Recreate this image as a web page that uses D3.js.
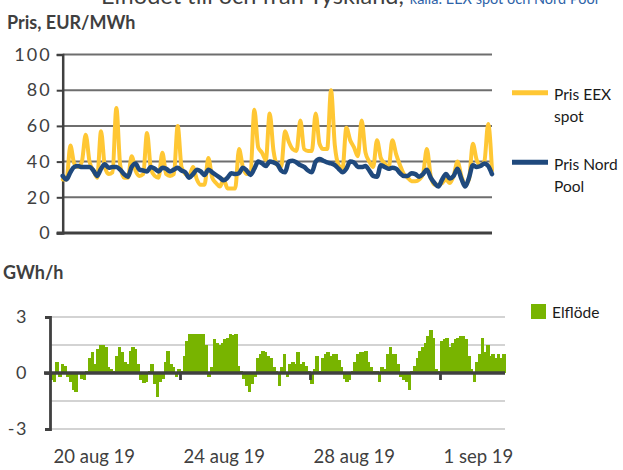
<!DOCTYPE html>
<html>
<head>
<meta charset="utf-8">
<script src="https://cdn.jsdelivr.net/npm/d3@7"></script>
<style>
  body { margin: 0; background: #fff; }
  svg { display: block; font-family: Lato, "Open Sans", sans-serif; }
</style>
</head>
<body>
<svg id="chart" width="623" height="470"></svg>
<script>
// Period shown: 20 Aug 2019 00:00 to 3 Sep 2019 00:00 (UTC)
const startDate = Date.UTC(2019, 7, 20);
const endDate = Date.UTC(2019, 8, 3);
const HOUR = 3600 * 1000;

// Spot prices, EUR/MWh, one value every 3 hours
const priceStepHours = 3;
const priceEEX = [
  30, 30, 49, 39, 37, 40, 55, 40, 35, 31,
  57, 37, 33, 34, 70, 38, 31, 31, 43, 35,
  32, 33, 56, 36, 32, 31, 45, 33, 32, 33,
  60, 37, 33, 32, 37, 30, 27, 27, 42, 31,
  28, 26, 30, 25, 25, 25, 47, 37, 33, 34,
  69, 48, 45, 41, 67, 46, 38, 37, 57, 51,
  47, 46, 63, 47, 46, 46, 67, 50, 47, 47,
  80, 49, 38, 36, 59, 52, 48, 43, 63, 45,
  40, 37, 52, 42, 39, 36, 52, 44, 38, 33,
  31, 29, 29, 30, 33, 47, 32, 27, 27, 28,
  30, 28, 32, 40, 32, 27, 30, 50, 41, 38,
  40, 61, 35
];
const priceNordPool = [
  32, 30, 34, 37, 37.5, 37, 37, 37, 35, 32,
  36, 38.5, 36.5, 37, 37, 35.5, 33, 31.5, 37, 39,
  35.5, 35, 34.5, 37, 36, 34.5, 36.5, 36, 34.5, 35.5,
  36.5, 35, 34, 31, 33, 35.5, 34.5, 32.5, 35.5, 34,
  32.5, 31, 29.5, 31, 33.5, 33, 33.5, 36.5, 35, 32.5,
  36, 40, 39, 37.5, 40, 39.5, 38.5, 35, 34, 40,
  40.5, 39.5, 38, 37, 35, 34, 40, 41.5, 40.5, 39.5,
  39, 38, 36, 34, 36, 40, 39.5, 37, 37, 37.5,
  35, 32, 31.5, 38, 37, 36, 36.5, 36, 33.5, 32,
  32, 33.5, 33, 31.5, 33, 35.5, 31, 28, 26, 30,
  33, 30.5, 32, 36, 30.5, 26, 31, 38, 37, 37.5,
  39, 37.5, 33
];

// Net power flow, GWh/h, one value every 2 hours
const flowStepHours = 2;
const elflode = [
  -0.4, -0.5, 0.6, -0.2, 0.5, 0.4, -0.2, -0.5, -0.9, -1.0,
  0.05, -0.3, -0.4, 0.1, 0.8, 1.1, 0.5, 1.3, 1.5, 1.5,
  1.4, 0.3, 0.2, 0.1, 0.9, 1.4, 1.1, 0.6, 0.5, 1.2,
  1.4, 1.3, 0.5, -0.4, -0.55, -0.5, 0.1, 0.5, -0.6, -1.3,
  -0.5, -0.3, 0.6, 1.2, 0.5, 0.3, -0.2, 0.2, 0.1, 0.9,
  1.7, 2.1, 2.1, 2.1, 2.1, 2.1, 2.1, 1.5, -0.2, 0.3,
  1.8, 1.6, 1.5, 1.6, 1.8, 1.9, 2.1, 2.05, 2.1, 0.4,
  0.1, -0.3, -0.7, -1.0, -0.6, -0.2, 0.8, 1.0, 1.2, 1.1,
  0.9, 0.8, 0.3, 0.1, -0.7, 0.3, 1.0, -0.2, 0.5, 0.6,
  0.5, 1.1, 0.5, 0.6, 0.4, 0.1, -0.6, 0.2, 0.9, 0.1,
  0.8, 1.0, 1.1, 0.9, 1.0, 1.0, 0.7, 0.3, -0.3, -0.5,
  -0.4, 0.1, 0.6, 1.0, 1.1, 1.1, 1.2, 0.6, 0.3, 0.1,
  0.1, -0.5, 0.3, 0.2, 1.0, 1.4, 1.0, 1.0, 0.5, -0.2,
  -0.4, -0.5, -0.9, 0.1, 0.4, 0.8, 1.2, 1.4, 1.6, 2.0,
  2.3, 1.9, 0.2, 0.1, 1.7, 1.8, 1.9, 1.4, 1.6, 1.8,
  1.9, 2.0, 2.0, 1.8, 0.9, 0.2, -0.5, 0.6, 1.0, 1.9,
  1.1, 1.5, 0.9, 1.0, 0.8, 1.0, 0.8, 1.0
];

// Axis ticks and labels
const priceTicks = [0, 20, 40, 60, 80, 100];
const flowTicks = [-3, 0, 3];
const flowGrid = [-3, -1.5, 1.5, 3];
const dateTicks = [Date.UTC(2019, 7, 20), Date.UTC(2019, 7, 24), Date.UTC(2019, 7, 28), Date.UTC(2019, 8, 1)];
const monthNames = ["jan", "feb", "mar", "apr", "maj", "jun", "jul", "aug", "sep", "okt", "nov", "dec"];

const seriesNames = { eex: ["Pris EEX", "spot"], nordpool: ["Pris Nord", "Pool"], flow: "Elflöde" };
const colors = { eex: "#FFC734", nordpool: "#1F497D", flow: "#78B400" };

const svg = d3.select("#chart");

// ---- Heading (first line runs off the top edge) ----
const head = svg.append("text").attr("x", 101).attr("y", 4).attr("font-size", 23.5);
head.append("tspan").attr("fill", "#3f3f3f").text("Elflödet till och från Tyskland, ");
head.append("tspan").attr("fill", "#2E63A8").attr("font-size", 14.5).text("källa: EEX spot och Nord Pool");

svg.append("text").attr("x", 7).attr("y", 29).attr("font-size", 18).attr("font-weight", 700)
  .attr("fill", "#3f3f3f").text("Pris, EUR/MWh");

// ---- Price chart ----
const xTop = d3.scaleUtc().domain([startDate, endDate]).range([62.7, 492]);
const yTop = d3.scaleLinear().domain([0, 100]).range([233, 54.5]);

const gPrice = svg.append("g");
gPrice.selectAll("line.grid").data(priceTicks.filter(d => d > 0)).join("line")
  .attr("class", "grid")
  .attr("x1", xTop.range()[0]).attr("x2", xTop.range()[1])
  .attr("y1", d => yTop(d)).attr("y2", d => yTop(d))
  .attr("stroke", "#6e6e6e").attr("stroke-width", 2);

const yAxisTop = gPrice.append("g").attr("transform", `translate(${xTop.range()[0]},0)`)
  .call(d3.axisLeft(yTop).tickValues(priceTicks).tickSize(6).tickPadding(5));
yAxisTop.select(".domain").attr("stroke", "#404040").attr("stroke-width", 2.5);
yAxisTop.selectAll(".tick line").attr("stroke", "#404040").attr("stroke-width", 2);
yAxisTop.selectAll(".tick text").attr("font-size", 18).attr("fill", "#404040")
  .attr("font-family", "Lato, sans-serif").attr("letter-spacing", 2);

gPrice.append("line")
  .attr("x1", xTop.range()[0] - 6).attr("x2", xTop.range()[1])
  .attr("y1", yTop(0)).attr("y2", yTop(0))
  .attr("stroke", "#404040").attr("stroke-width", 2.8);

const priceTime = i => startDate + i * priceStepHours * HOUR;
const priceLine = d3.line()
  .x((d, i) => xTop(priceTime(i)))
  .y(d => yTop(d))
  .curve(d3.curveMonotoneX);

gPrice.append("path").datum(priceEEX).attr("d", priceLine)
  .attr("fill", "none").attr("stroke", colors.eex).attr("stroke-width", 4)
  .attr("stroke-linejoin", "round").attr("stroke-linecap", "round");
gPrice.append("path").datum(priceNordPool).attr("d", priceLine)
  .attr("fill", "none").attr("stroke", colors.nordpool).attr("stroke-width", 4.5)
  .attr("stroke-linejoin", "round").attr("stroke-linecap", "round");

// Price legend
const legPrice = svg.append("g");
[["eex", 92.7], ["nordpool", 162.3]].forEach(([key, ly]) => {
  legPrice.append("line").attr("x1", 512).attr("x2", 548).attr("y1", ly).attr("y2", ly)
    .attr("stroke", colors[key]).attr("stroke-width", 5);
  const t = legPrice.append("text").attr("x", 554).attr("y", ly + 7.5)
    .attr("font-size", 15.5).attr("fill", "#1a1a1a");
  seriesNames[key].forEach((s, k) => {
    t.append("tspan").attr("x", 554).attr("dy", k === 0 ? 0 : 22).text(s);
  });
});

// ---- Flow chart ----
svg.append("text").attr("x", 3).attr("y", 279).attr("font-size", 18).attr("font-weight", 700)
  .attr("fill", "#3f3f3f").text("GWh/h");

const xBot = d3.scaleUtc().domain([startDate, endDate]).range([50, 505]);
const yBot = d3.scaleLinear().domain([-3, 3]).range([429, 317]);

const gFlow = svg.append("g");
gFlow.selectAll("line.grid").data(flowGrid).join("line")
  .attr("class", "grid")
  .attr("x1", xBot.range()[0]).attr("x2", xBot.range()[1])
  .attr("y1", d => yBot(d)).attr("y2", d => yBot(d))
  .attr("stroke", "#c4c4c4").attr("stroke-width", 1.6);

const flowTime = i => startDate + i * flowStepHours * HOUR;
gFlow.selectAll("rect.bar").data(elflode).join("rect")
  .attr("class", "bar")
  .attr("x", (d, i) => xBot(flowTime(i)))
  .attr("width", (d, i) => xBot(flowTime(i + 1)) - xBot(flowTime(i)) + 0.8)
  .attr("y", d => Math.min(yBot(d), yBot(0)))
  .attr("height", d => Math.abs(yBot(d) - yBot(0)))
  .attr("fill", colors.flow)
  .attr("shape-rendering", "crispEdges");

const yAxisBot = gFlow.append("g").attr("transform", `translate(${xBot.range()[0]},0)`)
  .call(d3.axisLeft(yBot).tickValues(flowTicks).tickFormat(d => String(d)).tickSize(5).tickPadding(17));
yAxisBot.select(".domain").attr("stroke", "#404040").attr("stroke-width", 2.8);
yAxisBot.selectAll(".tick line").attr("stroke", "#404040").attr("stroke-width", 2.5);
yAxisBot.selectAll(".tick text").attr("font-size", 18).attr("fill", "#404040")
  .attr("font-family", "Lato, sans-serif").attr("letter-spacing", 1.5);

const fmtDate = d => {
  const dt = new Date(d);
  return `${dt.getUTCDate()} ${monthNames[dt.getUTCMonth()]} ${String(dt.getUTCFullYear()).slice(2)}`;
};
const xAxisBot = gFlow.append("g").attr("transform", `translate(0,${yBot(0)})`)
  .call(d3.axisBottom(xBot).tickValues(dateTicks).tickFormat(fmtDate).tickSize(7).tickPadding(0));
xAxisBot.select(".domain").remove();
xAxisBot.selectAll(".tick line").attr("stroke", "#404040").attr("stroke-width", 2.8);
xAxisBot.selectAll(".tick text")
  .attr("text-anchor", "start").attr("x", 3).attr("y", 90).attr("dy", 0)
  .attr("font-size", 18.5).attr("fill", "#404040").attr("font-family", "Lato, sans-serif");

gFlow.append("line")
  .attr("x1", xBot.range()[0] - 6).attr("x2", xBot.range()[1])
  .attr("y1", yBot(0)).attr("y2", yBot(0))
  .attr("stroke", "#404040").attr("stroke-width", 3.4);

// Flow legend
svg.append("rect").attr("x", 531).attr("y", 304).attr("width", 15).attr("height", 15)
  .attr("fill", colors.flow);
svg.append("text").attr("x", 552).attr("y", 318).attr("font-size", 15.5)
  .attr("fill", "#1a1a1a").text(seriesNames.flow);
</script>
</body>
</html>
